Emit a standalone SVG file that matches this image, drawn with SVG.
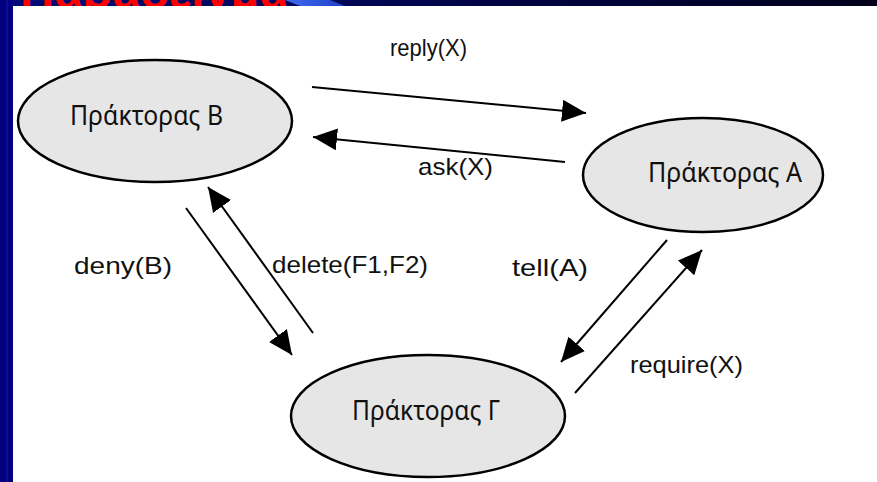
<svg xmlns="http://www.w3.org/2000/svg" width="877" height="482" viewBox="0 0 877 482">
  <defs>
    <marker id="head" markerUnits="userSpaceOnUse" markerWidth="24" markerHeight="22" refX="24" refY="11" orient="auto">
      <path d="M0,0 L24,11 L0,22 z" fill="#000"/>
    </marker>
    <linearGradient id="bandFade" x1="0" y1="0" x2="1" y2="0">
      <stop offset="0" stop-color="#000a7a"/>
      <stop offset="1" stop-color="#00001a"/>
    </linearGradient>
    <linearGradient id="wedge" x1="0" y1="0" x2="1" y2="0">
      <stop offset="0" stop-color="#3f6cf0"/>
      <stop offset="1" stop-color="#1f3fc8"/>
    </linearGradient>
    <clipPath id="bandClip">
      <rect x="0" y="0" width="877" height="6"/>
    </clipPath>
    <style>
      .agent ellipse { fill: #e6e6e6; stroke: #000; stroke-width: 2.5; }
      .agent text { font-family: "Noto Sans", "Open Sans", "DejaVu Sans", sans-serif; font-size: 27px; fill: #111; text-anchor: start; }
      .msg { stroke: #000; stroke-width: 2; fill: none; marker-end: url(#head); }
      .lbl { font-family: "Liberation Sans", Arial, sans-serif; font-size: 24px; fill: #111; }
    </style>
  </defs>

  <!-- page -->
  <rect x="0" y="0" width="877" height="482" fill="#ffffff"/>

  <!-- slide frame: title band and left rule -->
  <rect x="0" y="0" width="877" height="6" fill="url(#bandFade)"/>
  <g clip-path="url(#bandClip)">
    <polygon points="285,0 330,0 345,6 300,6" fill="url(#wedge)"/>
    <text x="20" y="8" font-family="Liberation Sans, Arial, sans-serif" font-weight="bold" font-size="44" fill="#ff0000" textLength="268" lengthAdjust="spacingAndGlyphs">Παράδειγμα</text>
  </g>
  <rect x="0" y="0" width="13" height="482" fill="#000080"/>
  <line x1="7" y1="0" x2="7" y2="482" stroke="#1a1a9a" stroke-width="1"/>

  <!-- agents -->
  <g id="agentB" class="agent">
    <ellipse cx="155" cy="121" rx="137" ry="61"/>
    <text x="70" y="125" textLength="153" lengthAdjust="spacingAndGlyphs">Πράκτορας Β</text>
  </g>
  <g id="agentA" class="agent">
    <ellipse cx="703" cy="175" rx="120" ry="57"/>
    <text x="648" y="182" textLength="154" lengthAdjust="spacingAndGlyphs">Πράκτορας Α</text>
  </g>
  <g id="agentG" class="agent">
    <ellipse cx="428" cy="416" rx="137" ry="61"/>
    <text x="352" y="420" textLength="148" lengthAdjust="spacingAndGlyphs">Πράκτορας Γ</text>
  </g>

  <!-- messages -->
  <g id="messages">
    <line class="msg" x1="312" y1="87" x2="586" y2="113"/>
    <line class="msg" x1="565" y1="162" x2="313" y2="137"/>
    <line class="msg" x1="186" y1="208" x2="292" y2="355"/>
    <line class="msg" x1="313" y1="333" x2="208" y2="187"/>
    <line class="msg" x1="667" y1="240" x2="561" y2="362"/>
    <line class="msg" x1="575" y1="393" x2="702" y2="250"/>

    <text class="lbl" x="390" y="56" textLength="77" lengthAdjust="spacingAndGlyphs">reply(X)</text>
    <text class="lbl" x="418" y="175" textLength="75" lengthAdjust="spacingAndGlyphs">ask(X)</text>
    <text class="lbl" x="74" y="274" textLength="98" lengthAdjust="spacingAndGlyphs">deny(B)</text>
    <text class="lbl" x="272" y="273" textLength="156" lengthAdjust="spacingAndGlyphs">delete(F1,F2)</text>
    <text class="lbl" x="512" y="276" textLength="76" lengthAdjust="spacingAndGlyphs">tell(A)</text>
    <text class="lbl" x="630" y="373" textLength="113" lengthAdjust="spacingAndGlyphs">require(X)</text>
  </g>
</svg>
